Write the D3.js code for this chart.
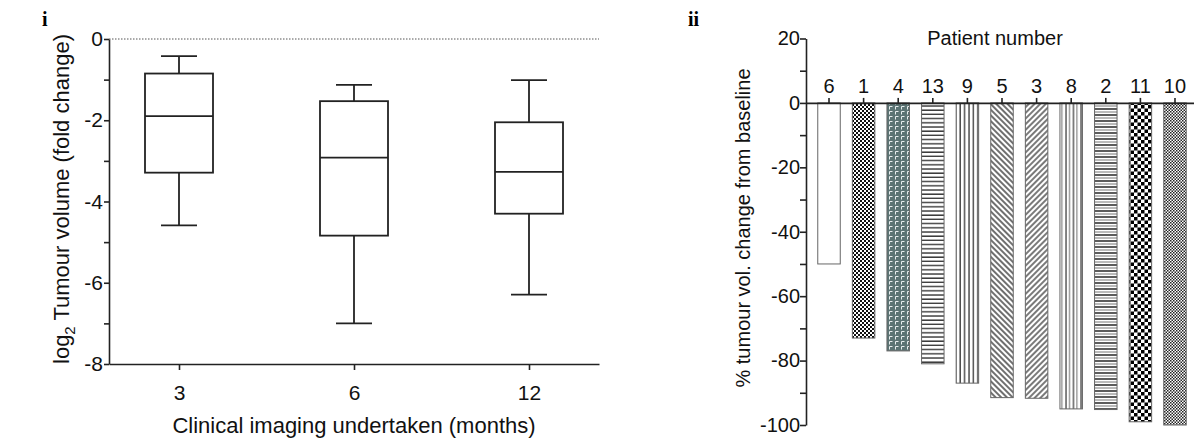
<!DOCTYPE html>
<html><head><meta charset="utf-8">
<script src="https://cdn.jsdelivr.net/npm/d3@7"></script>
<style>
body{margin:0;background:#fff;}
svg{display:block;font-family:"Liberation Sans",Arial,sans-serif;}
</style></head>
<body><svg id="c" width="1194" height="445"></svg>
<script>
// ---- Panel i data (box plots) ----
const boxCategories = ["3", "6", "12"];
const whiskerHigh = [-0.42, -1.13, -1.01];
const quartile3 = [-0.85, -1.53, -2.05];
const medians = [-1.9, -2.92, -3.27];
const quartile1 = [-3.29, -4.84, -4.30];
const whiskerLow = [-4.59, -7.0, -6.29];
const boxYTicks = [0, -1, -2, -3, -4, -5, -6, -7, -8];
const boxYLabels = [0, -2, -4, -6, -8];

// ---- Panel ii data (waterfall bars) ----
const patients = ["6", "1", "4", "13", "9", "5", "3", "8", "2", "11", "10"];
const volumeChange = [-50, -73, -77, -81, -87, -91.5, -91.7, -95, -95.2, -99, -100];
const barYTicks = [20, 10, 0, -10, -20, -30, -40, -50, -60, -70, -80, -90, -100];
const barYLabels = [20, 0, -20, -40, -60, -80, -100];
const patternIds = ["pOpen", "pFineChk", "pTeal", "pHoriz", "pVert", "pDiagDown", "pDiagUp", "pVert2", "pHoriz2", "pBigChk", "pFineChk2"];

const svg = d3.select("#c");
const defs = svg.append("defs");
const ink = "#222";

function pat(id, w, h, build, transform) {
  const p = defs.append("pattern").attr("id", id).attr("patternUnits", "userSpaceOnUse")
    .attr("width", w).attr("height", h);
  if (transform) p.attr("patternTransform", transform);
  p.append("rect").attr("width", w).attr("height", h).attr("fill", "#fff");
  build(p);
}
pat("pOpen", 4, 4, p => {});
pat("pFineChk", 4, 4, p => {
  p.append("rect").attr("x", 0).attr("y", 0).attr("width", 2).attr("height", 2).attr("fill", "#111");
  p.append("rect").attr("x", 2).attr("y", 2).attr("width", 2).attr("height", 2).attr("fill", "#111");
});
pat("pTeal", 6, 5, p => {
  p.select("rect").attr("fill", "#5b7373");
  p.append("path").attr("d", "M1.5,4.5 V1.5 H4.5").attr("fill", "none").attr("stroke", "#e8eeee").attr("stroke-width", 1);
});
pat("pHoriz", 4, 4.2, p => {
  p.append("line").attr("x1", 0).attr("x2", 4).attr("y1", 1).attr("y2", 1).attr("stroke", "#333").attr("stroke-width", 1.4);
});
pat("pVert", 4.4, 4, p => {
  p.append("line").attr("y1", 0).attr("y2", 4).attr("x1", 1).attr("x2", 1).attr("stroke", "#333").attr("stroke-width", 1.3);
});
pat("pDiagDown", 4, 4, p => {
  p.append("line").attr("x1", 0).attr("x2", 4).attr("y1", 1).attr("y2", 1).attr("stroke", "#222").attr("stroke-width", 1.3);
}, "rotate(45)");
pat("pDiagUp", 4, 4, p => {
  p.append("line").attr("x1", 0).attr("x2", 4).attr("y1", 1).attr("y2", 1).attr("stroke", "#222").attr("stroke-width", 1.2);
}, "rotate(-45)");
pat("pVert2", 7.5, 4, p => {
  p.append("line").attr("y1", 0).attr("y2", 4).attr("x1", 1).attr("x2", 1).attr("stroke", "#333").attr("stroke-width", 1.2);
  p.append("line").attr("y1", 0).attr("y2", 4).attr("x1", 4.5).attr("x2", 4.5).attr("stroke", "#555").attr("stroke-width", 0.9);
});
pat("pHoriz2", 4, 6, p => {
  p.append("line").attr("x1", 0).attr("x2", 4).attr("y1", 1).attr("y2", 1).attr("stroke", "#333").attr("stroke-width", 1.6);
  p.append("line").attr("x1", 0).attr("x2", 4).attr("y1", 4).attr("y2", 4).attr("stroke", "#666").attr("stroke-width", 0.9);
});
pat("pBigChk", 7, 7, p => {
  p.append("rect").attr("x", 0).attr("y", 0).attr("width", 3.5).attr("height", 3.5).attr("fill", "#000");
  p.append("rect").attr("x", 3.5).attr("y", 3.5).attr("width", 3.5).attr("height", 3.5).attr("fill", "#000");
});
pat("pFineChk2", 3, 3, p => {
  p.append("rect").attr("x", 0).attr("y", 0).attr("width", 1.5).attr("height", 1.5).attr("fill", "#222");
  p.append("rect").attr("x", 1.5).attr("y", 1.5).attr("width", 1.5).attr("height", 1.5).attr("fill", "#222");
});

// ---------- Panel i ----------
const x1 = d3.scalePoint().domain(boxCategories).range([109, 599]).padding(0.4);
const y1 = d3.scaleLinear().domain([-8, 0]).range([364, 39]);

svg.append("text").attr("x", 42).attr("y", 26).attr("font-family", "'Liberation Serif','Times New Roman',serif")
  .attr("font-weight", "bold").attr("font-size", 20).text("i");

svg.append("line").attr("x1", 109).attr("x2", 599).attr("y1", y1(0)).attr("y2", y1(0))
  .attr("stroke", "#555").attr("stroke-width", 1).attr("stroke-dasharray", "1.5,1.5");

const yAx1 = svg.append("g").attr("transform", "translate(109,0)")
  .call(d3.axisLeft(y1).tickValues(boxYTicks).tickSize(5).tickSizeOuter(0)
    .tickFormat(d => boxYLabels.includes(d) ? String(d) : ""));
const xAx1 = svg.append("g").attr("transform", `translate(0,${y1(-8)})`)
  .call(d3.axisBottom(x1).tickSize(6).tickSizeOuter(0));
[yAx1, xAx1].forEach(g => {
  g.selectAll("path,line").attr("stroke", ink).attr("stroke-width", 1.6);
  g.selectAll("text").attr("font-size", 21).attr("fill", "#111").attr("font-family", "'Liberation Sans',Arial,sans-serif");
});
yAx1.selectAll("text").attr("x", -6);
xAx1.selectAll("text").attr("y", 36).attr("dy", null);

const boxW = 68, capW = 36;
const boxes = svg.append("g").attr("fill", "none").attr("stroke", ink).attr("stroke-width", 1.8);
boxCategories.forEach((c, i) => {
  const cx = x1(c);
  boxes.append("line").attr("x1", cx).attr("x2", cx).attr("y1", y1(whiskerHigh[i])).attr("y2", y1(quartile3[i]));
  boxes.append("line").attr("x1", cx).attr("x2", cx).attr("y1", y1(quartile1[i])).attr("y2", y1(whiskerLow[i]));
  boxes.append("line").attr("x1", cx - capW / 2).attr("x2", cx + capW / 2).attr("y1", y1(whiskerHigh[i])).attr("y2", y1(whiskerHigh[i]));
  boxes.append("line").attr("x1", cx - capW / 2).attr("x2", cx + capW / 2).attr("y1", y1(whiskerLow[i])).attr("y2", y1(whiskerLow[i]));
  boxes.append("rect").attr("x", cx - boxW / 2).attr("width", boxW)
    .attr("y", y1(quartile3[i])).attr("height", y1(quartile1[i]) - y1(quartile3[i])).attr("fill", "#fff");
  boxes.append("line").attr("x1", cx - boxW / 2).attr("x2", cx + boxW / 2).attr("y1", y1(medians[i])).attr("y2", y1(medians[i]));
});

svg.append("text").attr("x", 354).attr("y", 433).attr("text-anchor", "middle").attr("font-size", 22)
  .attr("fill", "#111").text("Clinical imaging undertaken (months)");
const yt1 = svg.append("text").attr("transform", "translate(69,199) rotate(-90)").attr("text-anchor", "middle")
  .attr("font-size", 22).attr("fill", "#111");
yt1.append("tspan").text("log");
yt1.append("tspan").attr("font-size", 15).attr("dy", 6).text("2");
yt1.append("tspan").attr("dy", -6).text(" Tumour volume (fold change)");

// ---------- Panel ii ----------
const x2 = d3.scaleBand().domain(patients).range([806, 1198]).paddingInner(0.35).paddingOuter(0.34);
const y2 = d3.scaleLinear().domain([-100, 20]).range([425, 38.5]);

svg.append("text").attr("x", 688).attr("y", 26).attr("font-family", "'Liberation Serif','Times New Roman',serif")
  .attr("font-weight", "bold").attr("font-size", 20).text("ii");

svg.append("g").selectAll("rect").data(patients).join("rect")
  .attr("x", d => x2(d)).attr("width", x2.bandwidth())
  .attr("y", y2(0)).attr("height", (d, i) => y2(volumeChange[i]) - y2(0))
  .attr("fill", (d, i) => `url(#${patternIds[i]})`)
  .attr("stroke", "#666").attr("stroke-width", 1);

const yAx2 = svg.append("g").attr("transform", "translate(806,0)")
  .call(d3.axisLeft(y2).tickValues(barYTicks).tickSize(6).tickSizeOuter(0)
    .tickFormat(d => barYLabels.includes(d) ? String(d) : ""));
const xAx2 = svg.append("g").attr("transform", `translate(0,${y2(0)})`)
  .call(d3.axisTop(x2).tickSize(5).tickSizeOuter(0));
[yAx2, xAx2].forEach(g => {
  g.selectAll("path,line").attr("stroke", ink).attr("stroke-width", 1.6);
  g.selectAll("text").attr("font-size", 20).attr("fill", "#111").attr("font-family", "'Liberation Sans',Arial,sans-serif");
});
yAx2.selectAll("text").attr("x", -6);
xAx2.selectAll("text").attr("y", -10).attr("dy", null);

svg.append("text").attr("x", 995).attr("y", 45).attr("text-anchor", "middle").attr("font-size", 20)
  .attr("fill", "#111").text("Patient number");
svg.append("text").attr("transform", "translate(750,228) rotate(-90)").attr("text-anchor", "middle")
  .attr("font-size", 20).attr("fill", "#111").text("% tumour vol. change from baseline");
</script></body></html>
